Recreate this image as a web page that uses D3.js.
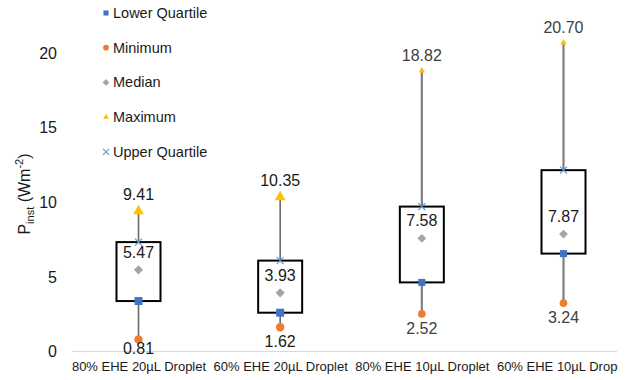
<!DOCTYPE html>
<html><head><meta charset="utf-8">
<script src="https://cdn.jsdelivr.net/npm/d3@7"></script>
<style>body{margin:0;background:#fff;overflow:hidden}svg{display:block;font-family:Arial,"Liberation Sans",sans-serif}</style>
</head><body><svg id="c" width="639" height="380"></svg>
<script>
const categories = ["80% EHE 20µL Droplet","60% EHE 20µL Droplet","80% EHE 10µL Droplet","60% EHE 10µL Droplet"];
const minimum = [0.81, 1.62, 2.52, 3.24];
const lowerQuartile = [3.38, 2.60, 4.63, 6.56];
const median = [5.47, 3.93, 7.58, 7.87];
const upperQuartile = [7.33, 6.09, 9.71, 12.15];
const maximum = [9.41, 10.35, 18.82, 20.70];
const yTicks = [0, 5, 10, 15, 20];
const legendLabels = ["Lower Quartile","Minimum","Median","Maximum","Upper Quartile"];

const svg = d3.select("#c");
const x = d3.scalePoint().domain(categories).range([138.5, 563.5]);
const y = d3.scaleLinear().domain([0, 20]).range([351.5, 53]);

const cols = {q1:"#4472C4", min:"#ED7D31", med:"#A5A5A5", max:"#FFC000", q3:"#5B9BD5"};

svg.append("defs").append("clipPath").attr("id","clipx")
  .append("rect").attr("x",0).attr("y",0).attr("width",618).attr("height",380);

// axis line
svg.append("line").attr("x1",72).attr("x2",617).attr("y1",y(0)).attr("y2",y(0))
  .attr("stroke","#d9d9d9").attr("stroke-width",1);

// y tick labels
const yAxis = d3.axisLeft(y).tickValues(yTicks).tickSize(0).tickPadding(0);
const ga = svg.append("g").attr("transform","translate(57,0)").call(yAxis);
ga.select(".domain").remove();
ga.selectAll("text").attr("font-size",16).attr("fill","#1a1a1a").attr("font-family","Arial,'Liberation Sans',sans-serif");

// x category labels
const xAxis = d3.axisBottom(x).tickSize(0).tickPadding(0);
const gx = svg.append("g").attr("clip-path","url(#clipx)").append("g").attr("transform","translate(0,362)").call(xAxis);
gx.select(".domain").remove();
gx.selectAll("text").attr("font-size",13).attr("fill","#1a1a1a").attr("font-family","Arial,'Liberation Sans',sans-serif");

// y title
const t = svg.append("text").attr("transform","translate(30,194) rotate(-90)")
  .attr("text-anchor","middle").attr("font-size",16).attr("fill","#1a1a1a");
t.append("tspan").text("P");
t.append("tspan").attr("font-size",11).attr("dy",4).text("inst");
t.append("tspan").attr("dy",-4).text(" (Wm");
t.append("tspan").attr("font-size",11).attr("dy",-7).text("-2");
t.append("tspan").attr("dy",7).text(")");

const idx = d3.range(categories.length);
const big = i => i < 2;

// whiskers
svg.selectAll(".wh").data(idx).join("line")
  .attr("x1",i=>x(categories[i])).attr("x2",i=>x(categories[i]))
  .attr("y1",i=>y(minimum[i])).attr("y2",i=>y(maximum[i]))
  .attr("stroke",i=>big(i)?"#6a6a6a":"#7f7f7f").attr("stroke-width",i=>big(i)?1.6:2.2);

// boxes
const bw = 44;
svg.selectAll(".box").data(idx).join("rect")
  .attr("x",i=>x(categories[i])-bw/2).attr("width",bw)
  .attr("y",i=>y(upperQuartile[i])).attr("height",i=>y(lowerQuartile[i])-y(upperQuartile[i]))
  .attr("fill","#fff").attr("stroke","#000").attr("stroke-width",2);

// markers
const sym = (type,size)=>d3.symbol().type(type).size(size)();
const diamond = r => `M0,${-r}L${r},0L0,${r}L${-r},0Z`;
function markers(arr, dFn, color){
  svg.append("g").selectAll("path").data(idx).join("path")
    .attr("transform",i=>`translate(${x(categories[i])},${y(arr[i])})`)
    .attr("d",dFn).attr("fill",color);
}
markers(minimum, i=>sym(d3.symbolCircle, big(i)?56:46), cols.min);
markers(median, i=>diamond(big(i)?4.6:4.4), cols.med);
markers(maximum, i=>sym(d3.symbolTriangle, big(i)?50:18), cols.max);
markers(lowerQuartile, i=>sym(d3.symbolSquare, big(i)?64:50), cols.q1);
// X markers for upper quartile
svg.append("g").selectAll("path").data(idx).join("path")
  .attr("transform",i=>`translate(${x(categories[i])},${y(upperQuartile[i])})`)
  .attr("d","M-3.5,-3.5L3.5,3.5M-3.5,3.5L3.5,-3.5")
  .attr("stroke",cols.q3).attr("stroke-width",1.2).attr("fill","none");

// data labels
const fmt = d3.format(".2f");
const lab = svg.append("g").attr("font-size",16).attr("text-anchor","middle");
lab.selectAll(".mx").data(idx).join("text")
  .attr("x",i=>x(categories[i])).attr("y",i=>y(maximum[i])-(big(i)?11:10))
  .attr("fill",i=>big(i)?"#1a1a1a":"#404040").text(i=>fmt(maximum[i]));
lab.selectAll(".md").data(idx).join("text")
  .attr("x",i=>x(categories[i])).attr("y",i=>y(median[i])-12)
  .attr("fill","#1a1a1a").text(i=>fmt(median[i]));
lab.selectAll(".mn").data(idx).join("text")
  .attr("x",i=>x(categories[i])).attr("y",i=>Math.min(y(minimum[i])+20,354))
  .attr("fill",i=>big(i)?"#1a1a1a":"#404040").text(i=>fmt(minimum[i]));

// legend
const lg = svg.append("g").attr("font-size",14.5).attr("fill","#1a1a1a");
const legendShapes = [sym(d3.symbolSquare,26), sym(d3.symbolCircle,26), diamond(3.4), sym(d3.symbolTriangle,14), null];
const legendCols = [cols.q1, cols.min, cols.med, cols.max, cols.q3];
legendLabels.forEach((l,k)=>{
  const cy = 13 + k*34.7;
  if (legendShapes[k]) {
    lg.append("path").attr("transform",`translate(106,${cy})`).attr("d",legendShapes[k]).attr("fill",legendCols[k]);
  } else {
    lg.append("path").attr("transform",`translate(106,${cy})`).attr("d","M-3,-3L3,3M-3,3L3,-3").attr("stroke",legendCols[k]).attr("stroke-width",1.1).attr("fill","none");
  }
  lg.append("text").attr("x",113).attr("y",cy+5).text(l);
});
</script></body></html>
